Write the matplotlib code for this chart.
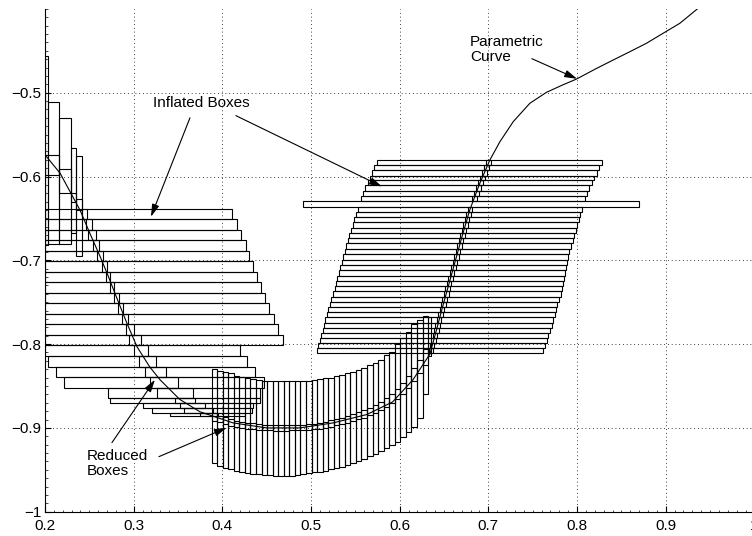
import matplotlib
matplotlib.use("Agg")
import matplotlib.pyplot as plt
from matplotlib.ticker import FixedLocator, MultipleLocator, FuncFormatter

plt.rcParams['font.family'] = ['Liberation Sans', 'DejaVu Sans']

# ---------------------------------------------------------------------------
# Parametric curve samples (x(t), y(t))
curve_x = [0.200, 0.217, 0.2395, 0.2507, 0.262, 0.271, 0.281, 0.292, 0.3037,
           0.318, 0.3297, 0.352, 0.3747, 0.412, 0.450, 0.4875, 0.525, 0.563,
           0.592, 0.615, 0.634, 0.641, 0.6484, 0.6557, 0.663, 0.671, 0.679,
           0.690, 0.7017, 0.713, 0.728, 0.7468, 0.7656, 0.7843, 0.7994,
           0.822, 0.8407, 0.8595, 0.8783, 0.897, 0.9159, 0.9365]
curve_y = [-0.574, -0.596, -0.640, -0.668, -0.695, -0.718, -0.745, -0.774,
           -0.803, -0.827, -0.8425, -0.866, -0.8807, -0.894, -0.900, -0.900,
           -0.894, -0.884, -0.869, -0.8425, -0.812, -0.785, -0.7554, -0.7275,
           -0.6996, -0.669, -0.640, -0.609, -0.5803, -0.5585, -0.5346,
           -0.5126, -0.4995, -0.4905, -0.4837, -0.471, -0.461, -0.4511,
           -0.441, -0.4291, -0.4172, -0.3993]

# ---------------------------------------------------------------------------
# Left branch: horizontal rows (top / bottom of each row)
left_row_top = [-0.639, -0.651, -0.664, -0.676, -0.689, -0.701, -0.714,
                -0.726, -0.739, -0.751, -0.764, -0.776, -0.789, -0.8015,
                -0.814, -0.827, -0.8396]
left_row_bottom = [-0.651, -0.664, -0.676, -0.689, -0.701, -0.714, -0.726,
                   -0.739, -0.751, -0.764, -0.776, -0.789, -0.8015, -0.814,
                   -0.827, -0.8396, -0.852]
# inflated boxes on those rows
infl_left_x0 = [0.200, 0.200, 0.200, 0.200, 0.200, 0.200, 0.200, 0.200,
                0.200, 0.200, 0.200, 0.200, 0.200, 0.2005, 0.203, 0.212,
                0.2218]
infl_left_x1 = [0.4112, 0.4168, 0.4213, 0.4263, 0.4303, 0.4348, 0.4393,
                0.4435, 0.448, 0.4529, 0.4585, 0.463, 0.4683, 0.4198, 0.428,
                0.4368, 0.4469]
# reduced boxes on those rows (hugging the curve)
red_left_x0 = [0.2414, 0.2465, 0.2488, 0.2538, 0.259, 0.2639, 0.2688, 0.2733,
               0.2778, 0.282, 0.2864, 0.291, 0.295, 0.3007, 0.3063, 0.3127,
               0.3184]
red_left_x1 = [0.2477, 0.2526, 0.2572, 0.2612, 0.265, 0.2696, 0.2733, 0.2778,
               0.2834, 0.2876, 0.2939, 0.3007, 0.3082, 0.3165, 0.3255, 0.3364,
               0.3505]

# Top-left tall boxes near the start of the curve
tl_x0 = [0.200, 0.2037, 0.2161, 0.2290, 0.2350]
tl_x1 = [0.2037, 0.2161, 0.2290, 0.2350, 0.2414]
tl_bottom = [-0.6815, -0.6806, -0.6806, -0.6678, -0.6949]
tl_top = [-0.4562, -0.5107, -0.5305, -0.5664, -0.5755]
# reduced boxes inside them
tl_red_x0 = [0.200, 0.2161, 0.2290, 0.2350]
tl_red_x1 = [0.2161, 0.2290, 0.2350, 0.2414]
tl_red_bottom = [-0.5980, -0.6200, -0.6310, -0.6397]
tl_red_top = [-0.5745, -0.5914, -0.6200, -0.6270]

# Lower-left thin rows approaching the bottom of the curve
low_top = [-0.8520, -0.8638, -0.8705, -0.8766, -0.8826]
low_bottom = [-0.8638, -0.8705, -0.8766, -0.8826, -0.8860]
low_x0 = [0.2713, 0.2733, 0.3101, 0.3203, 0.3409]
low_x1 = [0.4424, 0.4424, 0.4342, 0.4330, 0.4255]
low_red_x0 = [0.3260, 0.3466, 0.3522, 0.3567, 0.3750]
low_red_x1 = [0.3672, 0.3690, 0.3804, 0.3900, 0.3954]

# ---------------------------------------------------------------------------
# Bottom branch: vertical columns (inflated) and the reduced boxes inside
col_edges = [0.3879, 0.3942, 0.4004, 0.4067, 0.4129, 0.4192, 0.4255, 0.4317,
             0.4380, 0.4442, 0.4505, 0.4568, 0.4630, 0.4693, 0.4755, 0.4818,
             0.4881, 0.4943, 0.5006, 0.5068, 0.5131, 0.5194, 0.5256, 0.5319,
             0.5381, 0.5444, 0.5507, 0.5569, 0.5632, 0.5694, 0.5757, 0.5820,
             0.5882, 0.5945, 0.6007, 0.6070, 0.6133, 0.6195, 0.6258, 0.6320]
col_top = [-0.830, -0.8315, -0.833, -0.835, -0.838, -0.839, -0.841, -0.842,
           -0.843, -0.8435, -0.844, -0.844, -0.844, -0.844, -0.844, -0.844,
           -0.844, -0.8435, -0.843, -0.842, -0.841, -0.840, -0.838, -0.837,
           -0.835, -0.833, -0.831, -0.828, -0.825, -0.8225, -0.8195, -0.813,
           -0.810, -0.800, -0.793, -0.786, -0.776, -0.771, -0.767]
col_bottom = [-0.942, -0.945, -0.9475, -0.9495, -0.9515, -0.953, -0.954,
              -0.955, -0.9555, -0.956, -0.956, -0.957, -0.957, -0.957,
              -0.9568, -0.956, -0.9554, -0.9542, -0.9532, -0.9523, -0.951,
              -0.9494, -0.948, -0.9463, -0.9443, -0.942, -0.940, -0.937,
              -0.934, -0.9315, -0.928, -0.924, -0.920, -0.917, -0.9105,
              -0.905, -0.8986, -0.8886, -0.860]
col_red_bottom = [-0.8915, -0.8935, -0.8955, -0.8972, -0.8985, -0.8997,
                  -0.9007, -0.9016, -0.9023, -0.9028, -0.9030, -0.9031,
                  -0.9031, -0.9031, -0.9030, -0.9029, -0.9027, -0.9023,
                  -0.9017, -0.9009, -0.8998, -0.8985, -0.8970, -0.8954,
                  -0.8937, -0.8918, -0.8898, -0.8876, -0.8850, -0.8820,
                  -0.8787, -0.8750, -0.8706, -0.8655, -0.8595, -0.8525,
                  -0.8443, -0.8350, -0.8245]
col_red_top = [-0.8825, -0.8855, -0.8875, -0.8895, -0.8912, -0.8925, -0.8937,
               -0.8947, -0.8956, -0.8963, -0.8968, -0.8970, -0.8971, -0.8970,
               -0.8969, -0.8967, -0.8963, -0.8957, -0.8949, -0.8938, -0.8925,
               -0.8910, -0.8894, -0.8877, -0.8858, -0.8838, -0.8816, -0.8790,
               -0.8760, -0.8727, -0.8690, -0.8646, -0.8595, -0.8535, -0.8465,
               -0.8383, -0.8290, -0.8185, -0.8060]
# one narrow column where the branch turns upward
turn_x = [0.6320, 0.6357]
turn_y = [-0.8146, -0.7673]

# ---------------------------------------------------------------------------
# Right branch: slanted stack of horizontal rows
right_top = [-0.5803, -0.5863, -0.5923, -0.5990, -0.6042, -0.6101, -0.6169,
             -0.6233, -0.6360, -0.6420, -0.6487, -0.6547, -0.6611, -0.6674,
             -0.6737, -0.6797, -0.6865, -0.6928, -0.6996, -0.7056, -0.7115,
             -0.7184, -0.7243, -0.7307, -0.7366, -0.7434, -0.7494, -0.7554,
             -0.7617, -0.7680, -0.7745, -0.7804, -0.7864, -0.7931, -0.7990,
             -0.8050]
right_bottom = [-0.5863, -0.5923, -0.5990, -0.6042, -0.6101, -0.6169, -0.6233,
                -0.6292, -0.6420, -0.6487, -0.6547, -0.6611, -0.6674, -0.6737,
                -0.6797, -0.6865, -0.6928, -0.6996, -0.7056, -0.7115, -0.7184,
                -0.7243, -0.7307, -0.7366, -0.7434, -0.7494, -0.7554, -0.7617,
                -0.7680, -0.7745, -0.7804, -0.7864, -0.7931, -0.7990, -0.8050,
                -0.8110]
right_x0 = [0.5746, 0.5712, 0.5683, 0.5664, 0.5638, 0.5611, 0.5582, 0.5563,
            0.5525, 0.5505, 0.5488, 0.5470, 0.5452, 0.5434, 0.5416, 0.5398,
            0.5380, 0.5363, 0.5346, 0.5330, 0.5314, 0.5298, 0.5282, 0.5265,
            0.5248, 0.5231, 0.5214, 0.5197, 0.5180, 0.5163, 0.5146, 0.5130,
            0.5114, 0.5098, 0.5083, 0.5068]
right_x1 = [0.8276, 0.8246, 0.8220, 0.8193, 0.8163, 0.8136, 0.8114, 0.8091,
            0.8051, 0.8032, 0.8017, 0.8001, 0.7983, 0.7967, 0.7949, 0.7930,
            0.7911, 0.7896, 0.7885, 0.7874, 0.7862, 0.7851, 0.7840, 0.7829,
            0.7817, 0.7798, 0.7776, 0.7761, 0.7750, 0.7731, 0.7712, 0.7693,
            0.7674, 0.7656, 0.7637, 0.7618]
right_red_x0 = [0.6975, 0.6952, 0.6928, 0.6908, 0.6886, 0.6860, 0.6836,
                0.6813, 0.6767, 0.6749, 0.6733, 0.6716, 0.6699, 0.6682,
                0.6666, 0.6648, 0.6630, 0.6612, 0.6596, 0.6581, 0.6563,
                0.6547, 0.6530, 0.6515, 0.6497, 0.6482, 0.6466, 0.6450,
                0.6434, 0.6418, 0.6403, 0.6388, 0.6371, 0.6356, 0.6341,
                0.6326]
right_red_x1 = [0.7035, 0.7012, 0.6990, 0.6964, 0.6944, 0.6922, 0.6896,
                0.6872, 0.6820, 0.6803, 0.6785, 0.6769, 0.6752, 0.6735,
                0.6718, 0.6702, 0.6684, 0.6666, 0.6648, 0.6632, 0.6617,
                0.6599, 0.6583, 0.6566, 0.6551, 0.6533, 0.6518, 0.6502,
                0.6486, 0.6470, 0.6454, 0.6439, 0.6424, 0.6407, 0.6392,
                0.6377]
# single wide row across the right branch
wide_x = [0.4905, 0.8700]
wide_y = [-0.6360, -0.6292]

x_ticks = [0.2, 0.3, 0.4, 0.5, 0.6, 0.7, 0.8, 0.9, 1.0]
y_ticks = [-1.0, -0.9, -0.8, -0.7, -0.6, -0.5]

# ---------------------------------------------------------------------------
fig = plt.figure(figsize=(7.52, 5.36), dpi=100)
ax = fig.add_axes([0.0598, 0.0453, 0.9434, 0.9381])

BOX = dict(fill=False, edgecolor='black', linewidth=0.8, align='edge')


def boxes(x0, x1, y0, y1):
    widths = [b - a for a, b in zip(x0, x1)]
    heights = [b - a for a, b in zip(y0, y1)]
    ax.bar(x0, heights, width=widths, bottom=y0, **BOX)


# left branch
boxes(infl_left_x0, infl_left_x1, left_row_bottom, left_row_top)
boxes(red_left_x0, red_left_x1, left_row_bottom, left_row_top)
boxes(tl_x0, tl_x1, tl_bottom, tl_top)
boxes(tl_red_x0, tl_red_x1, tl_red_bottom, tl_red_top)
boxes(low_x0, low_x1, low_bottom, low_top)
boxes(low_red_x0, low_red_x1, low_bottom, low_top)

# bottom branch
boxes(col_edges[:-1], col_edges[1:], col_bottom, col_top)
boxes(col_edges[:-1], col_edges[1:], col_red_bottom, col_red_top)
boxes([turn_x[0]], [turn_x[1]], [turn_y[0]], [turn_y[1]])

# right branch
boxes(right_x0, right_x1, right_bottom, right_top)
boxes(right_red_x0, right_red_x1, right_bottom, right_top)
boxes([wide_x[0]], [wide_x[1]], [wide_y[0]], [wide_y[1]])

# the curve itself
ax.plot(curve_x, curve_y, color='black', linewidth=0.8, zorder=5)

# annotations
ARROW = dict(arrowstyle='-|>,head_length=0.75,head_width=0.22',
             color='black', lw=0.8, shrinkA=0, shrinkB=0)
TXT = dict(fontsize=11, color='black')

ax.text(0.3759, -0.5123, 'Inflated Boxes', ha='center', va='center', **TXT)
ax.annotate('', xy=(0.3195, -0.648), xytext=(0.3635, -0.530),
            arrowprops=ARROW, zorder=6)
ax.annotate('', xy=(0.580, -0.612), xytext=(0.4153, -0.5274),
            arrowprops=ARROW, zorder=6)

ax.text(0.6791, -0.4485, 'Parametric\nCurve', ha='left', va='center',
        linespacing=1.1, **TXT)
ax.annotate('', xy=(0.800, -0.4834), xytext=(0.749, -0.4594),
            arrowprops=ARROW, zorder=6)

ax.text(0.2474, -0.9425, 'Reduced\nBoxes', ha='left', va='center',
        linespacing=1.1, **TXT)
ax.annotate('', xy=(0.324, -0.8425), xytext=(0.2755, -0.9176),
            arrowprops=ARROW, zorder=6)
ax.annotate('', xy=(0.405, -0.8997), xytext=(0.3285, -0.9343),
            arrowprops=ARROW, zorder=6)

# axes styling
ax.set_xlim(0.2, 1.0)
ax.set_ylim(-1.0, -0.4)
ax.xaxis.set_major_locator(FixedLocator(x_ticks))
ax.yaxis.set_major_locator(FixedLocator(y_ticks))
ax.xaxis.set_minor_locator(MultipleLocator(0.01))
ax.yaxis.set_minor_locator(MultipleLocator(0.01))
fmt = FuncFormatter(lambda v, p: ('%g' % round(v, 3)).replace('-', '\u2212'))
ax.xaxis.set_major_formatter(fmt)
ax.yaxis.set_major_formatter(fmt)
ax.tick_params(which='major', direction='in', length=4, width=0.8,
               labelsize=11)
ax.tick_params(axis='x', which='major', pad=5)
ax.tick_params(axis='y', which='major', pad=2.5)
ax.tick_params(which='minor', direction='in', length=1.8, width=0.5)
ax.tick_params(top=False, right=False, which='both')
for side in ('top', 'right'):
    ax.spines[side].set_visible(False)
for side in ('left', 'bottom'):
    ax.spines[side].set_linewidth(0.8)
ax.grid(True, which='major', color='black', linestyle=(0, (1, 3.5)),
        linewidth=0.6)
ax.set_axisbelow(True)

fig.savefig('out.png', dpi=100)
